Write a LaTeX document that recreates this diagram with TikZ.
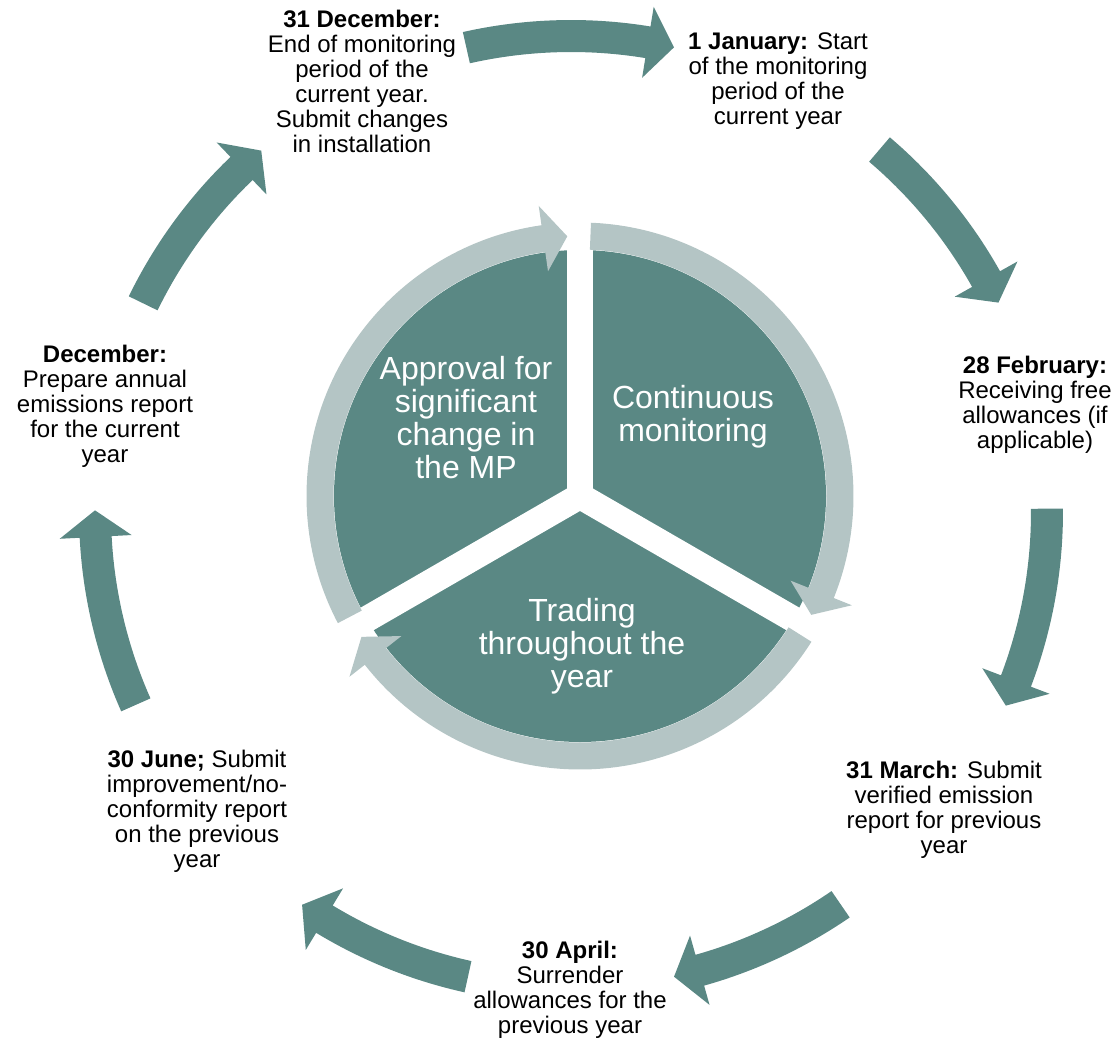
\documentclass[tikz,border=0pt]{standalone}
\usepackage{fontspec}
\setmainfont{Liberation Sans}
\usepackage{tikz}

\definecolor{arrowteal}{RGB}{90,136,132}
\definecolor{ringgrey}{RGB}{180,197,197}

\begin{document}
\begin{tikzpicture}[x=0.75pt,y=0.75pt,
        datetext/.style={align=center,inner sep=0pt,font=\fontsize{18}{18.75}\selectfont},
        piecetext/.style={align=center,inner sep=0pt,text=white,font=\fontsize{24}{24.75}\selectfont}]
        \useasboundingbox (0,0) rectangle (1115,-1039);

        % outer arrows
        \begin{scope}[shift={(571,-512)}]
        \foreach \a/\t [evaluate=\t as \b using \t+3.2] in {102.7/77.5,49.6/26.1,0.4/-24,-55.5/-77.5,-102.5/-124.4,-156.1/-180.2,154/130.6}
            \fill[arrowteal] (\a:492) arc[start angle=\a,end angle=\b,radius=492] -- (\b:512) -- (\t:476) -- (\b:440) -- (\b:460) arc[start angle=\b,end angle=\a,radius=460] -- cycle;
        \end{scope}

        % pie and ring
        \begin{scope}[shift={(580,-496)}]
        \fill[arrowteal] (0,0) circle[radius=246];
        \foreach \g in {90,-30,210}
            \draw[white,line width=19.5pt] (0,0) -- (\g:252);
        \foreach \a/\t [evaluate=\t as \b using \t+5.3] in {87.7/-27.2,-32.2/-147.2,207.7/92.8}
            \fill[ringgrey] (\a:273.5) arc[start angle=\a,end angle=\b,radius=273.5] -- (\b:293) -- (\t:260) -- (\b:227) -- (\b:246.5) arc[start angle=\b,end angle=\a,radius=246.5] -- cycle;
        \end{scope}

        \node[piecetext](8) at (466,-418) {Approval for\\significant\\change in\\the MP};
        \node[piecetext](9) at (693,-417) {Continuous\\monitoring};
        \node[piecetext](10) at (582,-646) {Trading\\throughout the\\year};

        \node[datetext](1) at (362,-81) {\textbf{31 December:}\\End of monitoring\\period of the\\current year.\\Submit changes\\in installation};
        \node[datetext](2) at (778,-81) {\textbf{1 January:} Start\\of the monitoring\\period of the\\current year};
        \node[datetext](3) at (1035,-405) {\textbf{28 February:}\\Receiving free\\allowances (if\\applicable)};
        \node[datetext](4) at (944,-810) {\textbf{31 March:} Submit\\verified emission\\report for previous\\year};
        \node[datetext](5) at (570,-990) {\textbf{30 April:}\\Surrender\\allowances for the\\previous year};
        \node[datetext](6) at (197,-811) {\textbf{30 June;} Submit\\improvement/no-\\conformity report\\on the previous\\year};
        \node[datetext](7) at (105,-406) {\textbf{December:}\\Prepare annual\\emissions report\\for the current\\year};
    \end{tikzpicture}
\end{document}
